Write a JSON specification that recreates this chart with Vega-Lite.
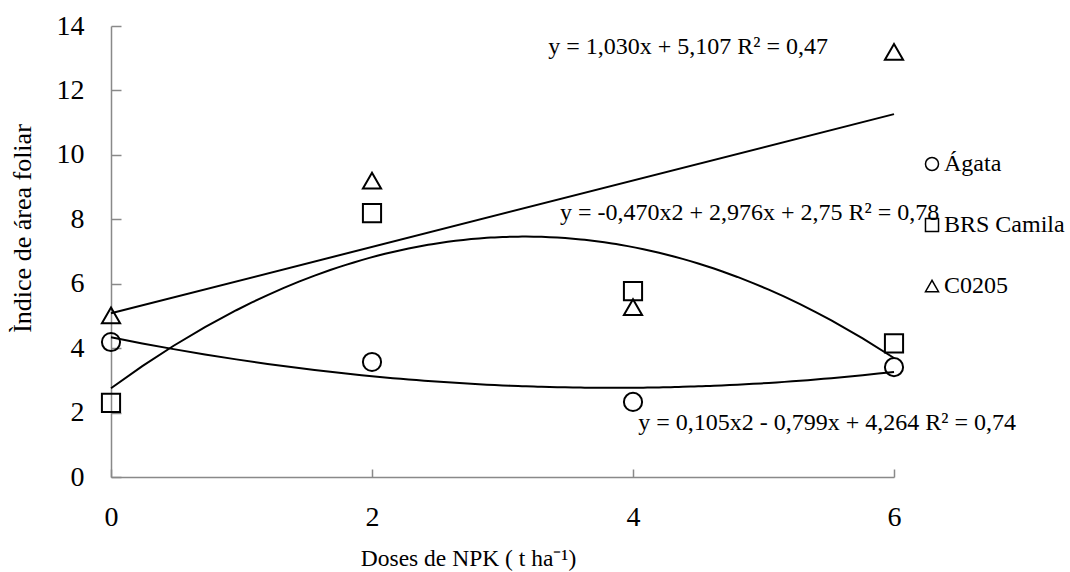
{
  "$schema": "https://vega.github.io/schema/vega-lite/v6.json",
  "width": 783,
  "height": 451,
  "autosize": {"type": "none"},
  "padding": {"left": 111, "top": 26, "right": 176, "bottom": 95},
  "background": "white",
  "config": {
    "font": "Liberation Serif",
    "view": {"stroke": null},
    "style": {"guide-label": {"font": "Liberation Serif"}, "guide-title": {"font": "Liberation Serif"}},
    "text": {"font": "Liberation Serif"},
    "axis": {"grid": false, "domainColor": "#898989", "domainWidth": 1.5, "tickColor": "#898989", "tickWidth": 1.5, "labelColor": "black", "titleColor": "black", "labelFont": "Liberation Serif", "titleFont": "Liberation Serif", "titleFontWeight": "normal"},
    "legend": {"labelFont": "Liberation Serif"}
  },
  "datasets": {
    "pts": [
      {"dose": 0, "iaf": 4.19, "cultivar": "Ágata"},
      {"dose": 2, "iaf": 3.57, "cultivar": "Ágata"},
      {"dose": 4, "iaf": 2.33, "cultivar": "Ágata"},
      {"dose": 6, "iaf": 3.41, "cultivar": "Ágata"},
      {"dose": 0, "iaf": 2.3, "cultivar": "BRS Camila"},
      {"dose": 2, "iaf": 8.19, "cultivar": "BRS Camila"},
      {"dose": 4, "iaf": 5.77, "cultivar": "BRS Camila"},
      {"dose": 6, "iaf": 4.15, "cultivar": "BRS Camila"},
      {"dose": 0, "iaf": 5.02, "cultivar": "C0205"},
      {"dose": 2, "iaf": 9.2, "cultivar": "C0205"},
      {"dose": 4, "iaf": 5.27, "cultivar": "C0205"},
      {"dose": 6, "iaf": 13.2, "cultivar": "C0205"}
    ],
    "eq": [
      {"dose": 3.35, "iaf": 13.34, "label": "y = 1,030x + 5,107 R² = 0,47"},
      {"dose": 3.44, "iaf": 8.19, "label": "y = -0,470x2 + 2,976x + 2,75 R² = 0,78"},
      {"dose": 4.04, "iaf": 1.68, "label": "y = 0,105x2 - 0,799x + 4,264 R² = 0,74"}
    ]
  },
  "encoding": {
    "x": {"field": "dose", "type": "quantitative", "scale": {"domain": [0, 6], "nice": false, "zero": false},
      "axis": {"values": [0, 2, 4, 6], "format": "d", "title": "Doses de NPK ( t ha⁻¹)", "labelFont": "Liberation Serif", "titleFont": "Liberation Serif", "labelFontSize": 28, "titleFontSize": 23.5, "labelFlush": false, "tickSize": -8, "labelPadding": 34, "titleX": 357, "titleY": 88, "titleBaseline": "alphabetic"}},
    "y": {"field": "iaf", "type": "quantitative", "scale": {"domain": [0, 14], "nice": false},
      "axis": {"values": [0, 2, 4, 6, 8, 10, 12, 14], "format": "d", "title": "Ìndice de área foliar", "labelFont": "Liberation Serif", "titleFont": "Liberation Serif", "labelFontSize": 28, "titleFontSize": 26, "labelFlush": false, "tickSize": -10, "labelPadding": 37, "titleX": -89, "titleY": 202, "titleBaseline": "middle", "titleAngle": -90, "titleAlign": "center"}}
  },
  "layer": [
    {
      "data": {"name": "pts"},
      "transform": [{"filter": "datum.cultivar === 'Ágata'"}, {"regression": "iaf", "on": "dose", "method": "poly", "order": 2}],
      "mark": {"type": "line", "color": "black", "strokeWidth": 2}
    },
    {
      "data": {"name": "pts"},
      "transform": [{"filter": "datum.cultivar === 'BRS Camila'"}, {"regression": "iaf", "on": "dose", "method": "poly", "order": 2}],
      "mark": {"type": "line", "color": "black", "strokeWidth": 2}
    },
    {
      "data": {"name": "pts"},
      "transform": [{"filter": "datum.cultivar === 'C0205'"}, {"regression": "iaf", "on": "dose", "method": "linear"}],
      "mark": {"type": "line", "color": "black", "strokeWidth": 2}
    },
    {
      "data": {"name": "pts"},
      "mark": {"type": "point", "filled": false, "color": "black", "strokeWidth": 2, "size": 330, "opacity": 1},
      "encoding": {
        "shape": {"field": "cultivar", "type": "nominal", "scale": {"domain": ["Ágata", "BRS Camila", "C0205"], "range": ["circle", "square", "triangle-up"]},
          "legend": {"title": null, "orient": "none", "legendX": 809, "legendY": 126, "padding": 0, "labelFont": "Liberation Serif", "labelFontSize": 24, "symbolSize": 170, "symbolStrokeColor": "black", "symbolFillColor": "transparent", "symbolStrokeWidth": 1.5, "labelOffset": 0, "rowPadding": 37, "labelColor": "black"}}
      }
    },
    {
      "data": {"name": "eq"},
      "mark": {"type": "text", "align": "left", "baseline": "middle", "fontSize": 24, "color": "black", "font": "Liberation Serif"},
      "encoding": {
        "text": {"field": "label"}
      }
    }
  ]
}
